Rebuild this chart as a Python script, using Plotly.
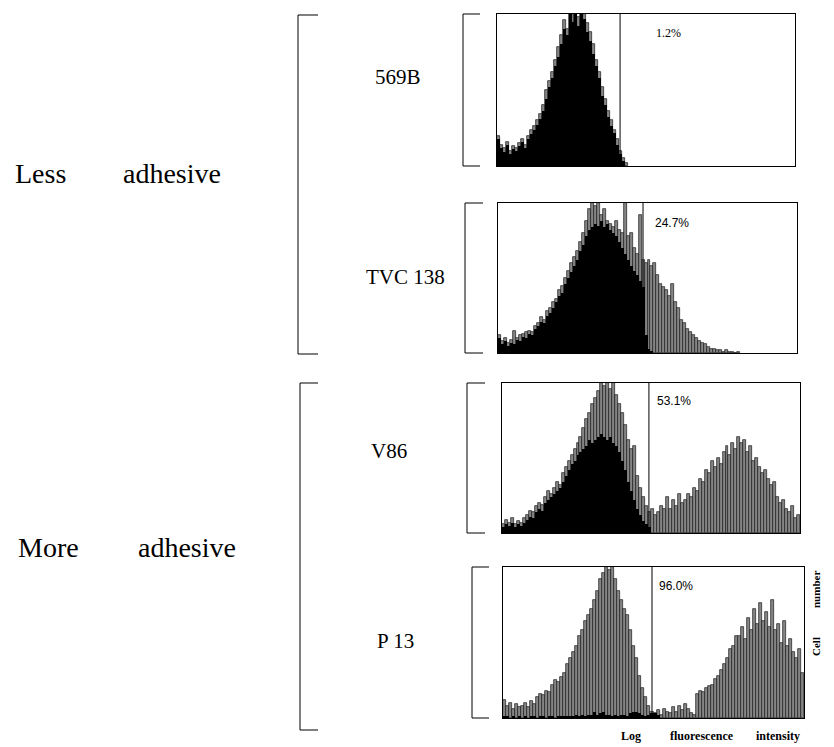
import plotly.graph_objects as go

W, H = 834, 747
OFF = 8  # default page body margin of the HTML page

# ---------------- data (cell counts per channel, % of panel height) ----------------
sample_names = ["569B", "TVC 138", "V86", "P 13"]
percent_labels = ["1.2%", "24.7%", "53.1%", "96.0%"]
gate_positions = [41.3, 48.5, 49.3, 49.5]   # channel of the positivity gate
n_channels = 100

control_569B = [18, 12, 9, 14, 8, 11, 10, 13, 16, 12, 18, 21, 24, 27, 31, 36, 44, 52, 58, 66,
                72, 80, 90, 86, 100, 95, 100, 92, 100, 97, 88, 82, 74, 66, 58, 46, 40, 32, 26, 22,
                14, 8, 3]
test_569B = [20, 14, 12, 16, 10, 13, 12, 15, 18, 14, 20, 24, 26, 30, 34, 40, 50, 56, 62, 70,
             78, 86, 96, 90, 100, 100, 100, 98, 100, 100, 94, 88, 80, 70, 62, 52, 44, 36, 30, 24,
             18, 10, 5, 2]

control_TVC138 = [10, 6, 8, 5, 7, 6, 9, 8, 11, 10, 13, 12, 16, 18, 21, 20, 25, 27, 30, 34,
                  38, 40, 46, 50, 54, 58, 62, 68, 72, 78, 82, 84, 86, 85, 88, 84, 86, 82, 80, 78,
                  74, 70, 66, 62, 58, 55, 52, 48, 44, 12, 3, 1]
test_TVC138 = [12, 8, 10, 7, 9, 15, 10, 12, 13, 14, 15, 14, 18, 20, 24, 22, 28, 30, 34, 36,
               42, 45, 50, 55, 60, 64, 68, 74, 80, 88, 96, 100, 98, 100, 92, 96, 88, 86, 84, 88,
               82, 80, 100, 78, 80, 70, 66, 92, 62, 60, 62, 58, 60, 52, 46, 44, 42, 38, 46, 34,
               30, 22, 20, 16, 14, 12, 10, 8, 7, 6, 4, 3, 3, 2, 2, 1, 2, 1, 1, 0, 1]

control_V86 = [4, 6, 5, 7, 4, 6, 5, 7, 9, 11, 10, 14, 16, 15, 20, 22, 24, 26, 28, 30,
               34, 38, 42, 46, 48, 52, 54, 56, 58, 62, 60, 62, 64, 66, 64, 62, 64, 60, 58, 54,
               48, 42, 34, 28, 22, 16, 12, 8, 6, 4]
test_V86 = [6, 9, 7, 10, 6, 8, 7, 10, 12, 15, 14, 18, 20, 19, 24, 28, 26, 30, 34, 32,
            40, 44, 48, 52, 56, 60, 64, 70, 76, 80, 86, 90, 95, 100, 98, 100, 96, 100, 92, 86,
            80, 72, 62, 56, 58, 38, 30, 24, 18, 14, 16, 12, 14, 18, 16, 24, 16, 22, 18, 26,
            20, 22, 26, 24, 30, 28, 36, 34, 42, 40, 48, 44, 50, 46, 54, 58, 52, 60, 56, 64,
            60, 62, 54, 58, 48, 50, 44, 40, 42, 36, 32, 34, 24, 20, 22, 16, 14, 18, 10, 12]

control_P13 = [1, 1, 0, 1, 0, 1, 0, 1, 0, 1, 1, 0, 1, 1, 0, 1, 1, 0, 1, 1,
               1, 1, 1, 1, 2, 1, 2, 1, 2, 2, 4, 2, 3, 4, 2, 2, 1, 2, 1, 2,
               2, 1, 3, 4, 4, 3, 2, 1, 2, 3, 3, 2]
test_P13 = [12, 8, 10, 6, 9, 7, 8, 10, 7, 11, 9, 14, 16, 15, 18, 17, 22, 25, 24, 27,
            30, 36, 40, 44, 48, 54, 58, 64, 68, 72, 78, 84, 92, 96, 100, 98, 100, 92, 84, 78,
            72, 68, 58, 48, 40, 28, 20, 14, 8, 4, 3, 5, 2, 6, 4, 3, 7, 4, 8, 5,
            9, 6, 3, 2, 16, 18, 17, 20, 21, 22, 26, 28, 32, 36, 40, 46, 48, 54, 54, 60,
            52, 66, 58, 72, 62, 76, 64, 70, 60, 78, 58, 62, 50, 64, 48, 52, 44, 40, 46, 30]

controls = [control_569B, control_TVC138, control_V86, control_P13]
tests = [test_569B, test_TVC138, test_V86, test_P13]

# ---------------- layout geometry (pixels in the target picture) ----------------
boxes = [(497, 795, 14, 166), (498, 797, 203, 353), (502, 800, 383, 533), (503, 804, 567, 718)]
small_brackets = [(463, 480), (465, 483), (467, 485), (472, 489)]
label_pos = [(398, 77), (405, 277), (389, 451), (395, 641)]
pct_pos = [(668, 33), (672, 223), (674, 401), (676, 586)]

FW, FH = W - OFF, H - OFF


def px(x):
    return (x - OFF) / FW


def py(y):
    return 1 - (y - OFF) / FH


fig = go.Figure()
shapes = []
annotations = []
layout_axes = {}

for i in range(4):
    k = "" if i == 0 else str(i + 1)
    x0, x1, y0, y1 = boxes[i]
    layout_axes["xaxis" + k] = dict(domain=[px(x0), px(x1)], range=[0, n_channels],
                                   anchor="y" + k, showticklabels=False, ticks="",
                                   showgrid=False, zeroline=False, showline=True,
                                   mirror=True, linecolor="black", linewidth=1)
    layout_axes["yaxis" + k] = dict(domain=[py(y1), py(y0)], range=[0, 100],
                                   anchor="x" + k, showticklabels=False, ticks="",
                                   showgrid=False, zeroline=False, showline=True,
                                   mirror=True, linecolor="black", linewidth=1)
    t = tests[i]
    c = controls[i]
    fig.add_trace(go.Bar(x=[j + 0.5 for j in range(len(t))], y=t, width=1,
                         xaxis="x" + k, yaxis="y" + k, showlegend=False,
                         marker=dict(color="#858585", line=dict(width=0.7, color="#1a1a1a"))))
    fig.add_trace(go.Bar(x=[j + 0.5 for j in range(len(c))], y=c, width=1,
                         xaxis="x" + k, yaxis="y" + k, showlegend=False,
                         marker=dict(color="black", line=dict(width=0))))
    # gate line
    shapes.append(dict(type="line", xref="x" + k, yref="y" + k + " domain",
                       x0=gate_positions[i], x1=gate_positions[i], y0=0, y1=1,
                       line=dict(color="black", width=1)))
    # small bracket
    bx, bt = small_brackets[i]
    shapes.append(dict(type="path", xref="paper", yref="paper",
                       path=f"M {px(bt)},{py(y0)} L {px(bx)},{py(y0)} L {px(bx)},{py(y1)} L {px(bt)},{py(y1)}",
                       line=dict(color="black", width=1)))
    # labels
    lx, ly = label_pos[i]
    annotations.append(dict(x=px(lx), y=py(ly), xref="paper", yref="paper", text=sample_names[i],
                            showarrow=False, xanchor="center", yanchor="middle",
                            font=dict(family="Liberation Serif", size=21, color="black")))
    qx, qy = pct_pos[i]
    annotations.append(dict(x=px(qx), y=py(qy), xref="paper", yref="paper", text=percent_labels[i],
                            showarrow=False, xanchor="center", yanchor="middle",
                            font=dict(family="Liberation Serif" if i == 0 else "Liberation Sans",
                                      size=12, color="black")))

# big brackets
for (xv, xt, yt, yb) in [(298, 318, 15, 354), (300, 318, 383, 730)]:
    shapes.append(dict(type="path", xref="paper", yref="paper",
                       path=f"M {px(xt)},{py(yt)} L {px(xv)},{py(yt)} L {px(xv)},{py(yb)} L {px(xt)},{py(yb)}",
                       line=dict(color="black", width=1)))

group_words = [("Less", 40, 173), ("adhesive", 172, 173), ("More", 48, 547), ("adhesive", 187, 547)]
for txt, x, y in group_words:
    annotations.append(dict(x=px(x), y=py(y), xref="paper", yref="paper", text=txt,
                            showarrow=False, xanchor="center", yanchor="middle",
                            font=dict(family="Liberation Serif", size=28, color="black")))

axis_words = [("Log", 631, 736), ("fluorescence", 702, 736), ("intensity", 778, 736)]
for txt, x, y in axis_words:
    annotations.append(dict(x=px(x), y=py(y), xref="paper", yref="paper", text="<b>" + txt + "</b>",
                            showarrow=False, xanchor="center", yanchor="middle",
                            font=dict(family="Liberation Serif", size=12, color="black")))
for txt, x, y in [("Cell", 816, 647), ("number", 816, 590)]:
    annotations.append(dict(x=px(x), y=py(y), xref="paper", yref="paper", text="<b>" + txt + "</b>",
                            showarrow=False, xanchor="center", yanchor="middle", textangle=-90,
                            font=dict(family="Liberation Serif", size=11, color="black")))

fig.update_layout(width=FW, height=FH, margin=dict(l=0, r=0, t=0, b=0),
                  paper_bgcolor="white", plot_bgcolor="white", barmode="overlay",
                  bargap=0, showlegend=False, shapes=shapes, annotations=annotations,
                  **layout_axes)

fig.write_html("out.html")
